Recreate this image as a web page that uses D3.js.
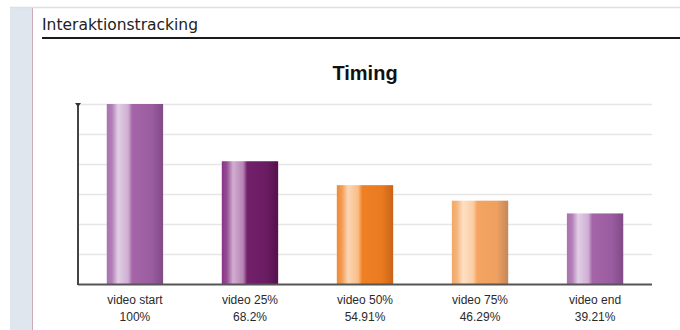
<!DOCTYPE html>
<html>
<head>
<meta charset="utf-8">
<script src="https://cdn.jsdelivr.net/npm/d3@7"></script>
<style>
  body { margin: 0; background: #fff; }
  svg { display: block; }
</style>
</head>
<body>
<div id="chart"></div>
<script>
// data
var categories = ["video start", "video 25%", "video 50%", "video 75%", "video end"];
var values = [100, 68.2, 54.91, 46.29, 39.21];
var valueLabels = ["100%", "68.2%", "54.91%", "46.29%", "39.21%"];
var gridTicks = [0, 16.67, 33.33, 50, 66.67, 83.33, 100];

// gradient stops for each bar (left -> right shading)
var barShades = [
  ["#aa72ae", "#b27eb6", "#e2cfe5", "#cfaed3", "#a565a8", "#9a5ca0", "#804a87"],
  ["#863584", "#964c94", "#d2aed1", "#b682b3", "#72206a", "#6a1c62", "#55104c"],
  ["#ef8a30", "#f29c58", "#fcd6b4", "#f9bc86", "#f08024", "#ea7a20", "#c86418"],
  ["#f2a868", "#f4b47c", "#fde0c4", "#fbcca2", "#f5a460", "#eea060", "#c4885a"],
  ["#aa72ae", "#b27eb6", "#e2cfe5", "#cfaed3", "#a565a8", "#9a5ca0", "#804a87"]
];
var stopOffsets = [0, 0.09, 0.2, 0.38, 0.45, 0.8, 1];

var w = 680, h = 330;

var svg = d3.select("#chart").append("svg")
    .attr("width", w)
    .attr("height", h);

// page frame: left strip, pink divider, top border
svg.append("rect").attr("x", 10).attr("y", 7).attr("width", 22).attr("height", h - 7).attr("fill", "#dfe6ed");
svg.append("line").attr("x1", 32.5).attr("x2", 32.5).attr("y1", 7).attr("y2", h)
    .attr("stroke", "#cfaab9").attr("stroke-width", 1);
svg.append("line").attr("x1", 10).attr("x2", w).attr("y1", 7.5).attr("y2", 7.5)
    .attr("stroke", "#d8e0e8").attr("stroke-width", 1.5);

// section header
svg.append("text")
    .attr("x", 42)
    .attr("y", 30)
    .style("font-family", "DejaVu Sans, sans-serif")
    .style("font-size", "15.5px")
    .style("fill", "#222")
    .text("Interaktionstracking");
svg.append("line").attr("x1", 42).attr("x2", w).attr("y1", 38).attr("y2", 38)
    .attr("stroke", "#1a1a1a").attr("stroke-width", 2);

// chart title
svg.append("text")
    .attr("x", 365)
    .attr("y", 80)
    .attr("text-anchor", "middle")
    .style("font-family", "Liberation Sans, Arial, sans-serif")
    .style("font-weight", "bold")
    .style("font-size", "20px")
    .style("fill", "#111")
    .text("Timing");

var x0 = 78, x1 = 652, yTop = 104, yBase = 284;

var xScale = d3.scaleBand()
    .domain(categories)
    .range([x0, x1])
    .paddingInner(0.51)
    .paddingOuter(0.25);

var yScale = d3.scaleLinear()
    .domain([0, 100])
    .range([yBase, yTop]);

// gradients
var defs = svg.append("defs");
barShades.forEach(function(shades, i) {
  var g = defs.append("linearGradient")
      .attr("id", "bar" + i)
      .attr("x1", "0%").attr("x2", "100%").attr("y1", "0%").attr("y2", "0%");
  shades.forEach(function(c, j) {
    g.append("stop").attr("offset", stopOffsets[j]).attr("stop-color", c);
  });
});

// gridlines
svg.append("g").selectAll("line")
    .data(gridTicks.slice(1))
    .enter()
    .append("line")
    .attr("x1", x0)
    .attr("x2", x1)
    .attr("y1", function(d) { return Math.round(yScale(d)) + 0.5; })
    .attr("y2", function(d) { return Math.round(yScale(d)) + 0.5; })
    .attr("stroke", "#e6e6e6")
    .attr("stroke-width", 1.5);

// bars
svg.append("g").selectAll("rect")
    .data(values)
    .enter()
    .append("rect")
    .attr("x", function(d, i) { return xScale(categories[i]); })
    .attr("y", function(d) { return yScale(d); })
    .attr("width", xScale.bandwidth())
    .attr("height", function(d) { return yBase - yScale(d); })
    .attr("fill", function(d, i) { return "url(#bar" + i + ")"; });

// axes
svg.append("line").attr("x1", x0).attr("x2", x1).attr("y1", yBase + 0.5).attr("y2", yBase + 0.5)
    .attr("stroke", "#555").attr("stroke-width", 2);
svg.append("line").attr("x1", x0).attr("x2", x0).attr("y1", yTop).attr("y2", yBase + 1)
    .attr("stroke", "#444").attr("stroke-width", 2);
svg.append("path")
    .attr("d", "M" + (x0 - 3) + "," + (yTop - 1) + "L" + (x0 + 3) + "," + (yTop - 1) + "L" + x0 + "," + (yTop + 3) + "Z")
    .attr("fill", "#333");

// category labels
var labels = svg.append("g")
    .style("font-family", "Liberation Sans, Arial, sans-serif")
    .style("font-size", "12px")
    .style("fill", "#2a2a2a")
    .attr("text-anchor", "middle");

labels.selectAll("text.cat")
    .data(categories)
    .enter()
    .append("text")
    .attr("class", "cat")
    .attr("x", function(d) { return xScale(d) + xScale.bandwidth() / 2; })
    .attr("y", 304)
    .text(function(d) { return d; });

labels.selectAll("text.val")
    .data(valueLabels)
    .enter()
    .append("text")
    .attr("class", "val")
    .attr("x", function(d, i) { return xScale(categories[i]) + xScale.bandwidth() / 2; })
    .attr("y", 321)
    .text(function(d) { return d; });
</script>
</body>
</html>
